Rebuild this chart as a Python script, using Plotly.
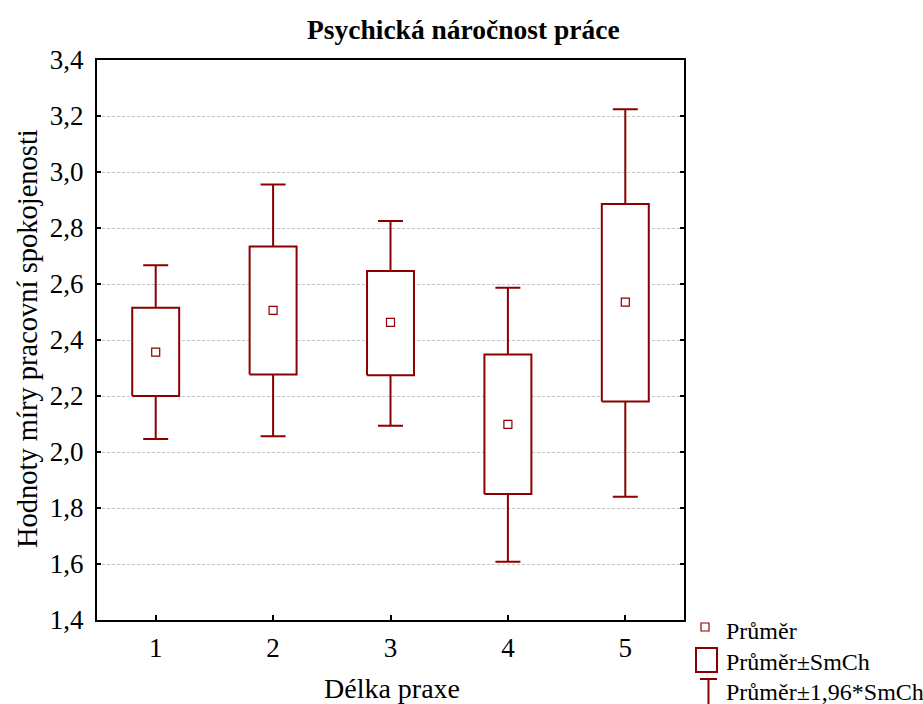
import plotly.graph_objects as go

# Length of practice groups and the summary statistics per group
groups = [1, 2, 3, 4, 5]
group_labels = ["1", "2", "3", "4", "5"]
mean = [2.357, 2.506, 2.463, 2.099, 2.535]
mean_minus_se = [2.200, 2.277, 2.274, 1.850, 2.180]
mean_plus_se = [2.515, 2.734, 2.646, 2.348, 2.886]
mean_minus_ci = [2.046, 2.056, 2.094, 1.608, 1.840]
mean_plus_ci = [2.667, 2.955, 2.825, 2.587, 3.224]

y_ticks = [1.4, 1.6, 1.8, 2.0, 2.2, 2.4, 2.6, 2.8, 3.0, 3.2, 3.4]
y_tick_labels = ["1,4", "1,6", "1,8", "2,0", "2,2", "2,4", "2,6", "2,8", "3,0", "3,2", "3,4"]

title_text = "Psychická náročnost práce"
x_title = "Délka praxe"
y_title = "Hodnoty míry pracovní spokojenosti"
legend_labels = ["Průměr", "Průměr±SmCh", "Průměr±1,96*SmCh"]

RED = "#8b0000"
FONT = "Liberation Serif"
BOX_HALF = 0.2

# Figure geometry (pixels)
W, H = 923, 704
L, R, T, B = 97, 239, 60, 84
PW, PH = W - L - R, H - T - B


def px(x):
    return (x - L) / PW


def py(y):
    return (H - B - y) / PH


fig = go.Figure()

# Whiskers: mean ± 1.96*SE
fig.add_trace(go.Scatter(
    x=groups, y=mean, mode="markers",
    marker=dict(size=1, opacity=0),
    error_y=dict(
        type="data", symmetric=False,
        array=[h - m for h, m in zip(mean_plus_ci, mean)],
        arrayminus=[m - l for m, l in zip(mean, mean_minus_ci)],
        color=RED, thickness=2, width=12.5,
    ),
    showlegend=False, hoverinfo="skip",
))

# Boxes: mean ± SE, white-filled so the whisker line is hidden inside
for g, lo, hi in zip(groups, mean_minus_se, mean_plus_se):
    fig.add_trace(go.Scatter(
        x=[g - BOX_HALF, g + BOX_HALF, g + BOX_HALF, g - BOX_HALF, g - BOX_HALF],
        y=[lo, lo, hi, hi, lo],
        mode="lines", fill="toself", fillcolor="white",
        line=dict(color=RED, width=2),
        showlegend=False, hoverinfo="skip",
    ))

# Means
fig.add_trace(go.Scatter(
    x=groups, y=mean, mode="markers",
    marker=dict(symbol="square", size=8, color="white",
                line=dict(color=RED, width=1.2)),
    showlegend=False,
))

fig.update_layout(
    width=W, height=H,
    margin=dict(l=L, r=R, t=T, b=B, pad=0),
    paper_bgcolor="white", plot_bgcolor="white",
    font=dict(family=FONT, color="black"),
    showlegend=False,
    xaxis=dict(
        range=[0.5, 5.5], tickvals=groups, ticktext=group_labels,
        ticks="inside", ticklen=5, tickwidth=1.5, tickcolor="black",
        showline=True, linewidth=2, linecolor="black", mirror=True,
        showgrid=False, zeroline=False,
        tickfont=dict(family=FONT, size=27, color="black"),
        ticklabelstandoff=3,
    ),
    yaxis=dict(
        range=[1.4, 3.4], tickvals=y_ticks, ticktext=y_tick_labels,
        ticks="inside", ticklen=4, tickwidth=2, tickcolor="black",
        showline=True, linewidth=2, linecolor="black", mirror="ticks",
        showgrid=True, gridcolor="#c4c4c4", gridwidth=1, griddash="3px,2px",
        zeroline=False,
        tickfont=dict(family=FONT, size=27, color="black"),
        ticklabelstandoff=6,
    ),
)

annotations = [
    dict(text="<b>" + title_text + "</b>", x=px(463), y=py(30),
         xref="paper", yref="paper", xanchor="center", yanchor="middle",
         showarrow=False, font=dict(family=FONT, size=27.5, color="black")),
    dict(text=x_title, x=px(392), y=py(688),
         xref="paper", yref="paper", xanchor="center", yanchor="middle",
         showarrow=False, font=dict(family=FONT, size=28, color="black")),
    dict(text=y_title, x=px(27), y=py(339), textangle=-90,
         xref="paper", yref="paper", xanchor="center", yanchor="middle",
         showarrow=False, font=dict(family=FONT, size=28.5, color="black")),
]
for label, yc in zip(legend_labels, [631, 662, 692]):
    annotations.append(dict(
        text=label, x=px(724), y=py(yc), xref="paper", yref="paper",
        xanchor="left", yanchor="middle", showarrow=False,
        font=dict(family=FONT, size=24, color="black")))
fig.update_layout(annotations=annotations)

# Legend symbols
shapes = [
    dict(type="rect", xref="paper", yref="paper",
         x0=px(701), x1=px(709), y0=py(631), y1=py(623),
         line=dict(color=RED, width=1.2), fillcolor="white"),
    dict(type="rect", xref="paper", yref="paper",
         x0=px(696), x1=px(717), y0=py(672), y1=py(648),
         line=dict(color=RED, width=2), fillcolor="white"),
    dict(type="line", xref="paper", yref="paper",
         x0=px(708.5), x1=px(708.5), y0=py(712), y1=py(679),
         line=dict(color=RED, width=2)),
    dict(type="line", xref="paper", yref="paper",
         x0=px(700), x1=px(717), y0=py(679), y1=py(679),
         line=dict(color=RED, width=2)),
]
fig.update_layout(shapes=shapes)

fig.write_html("out.html")
